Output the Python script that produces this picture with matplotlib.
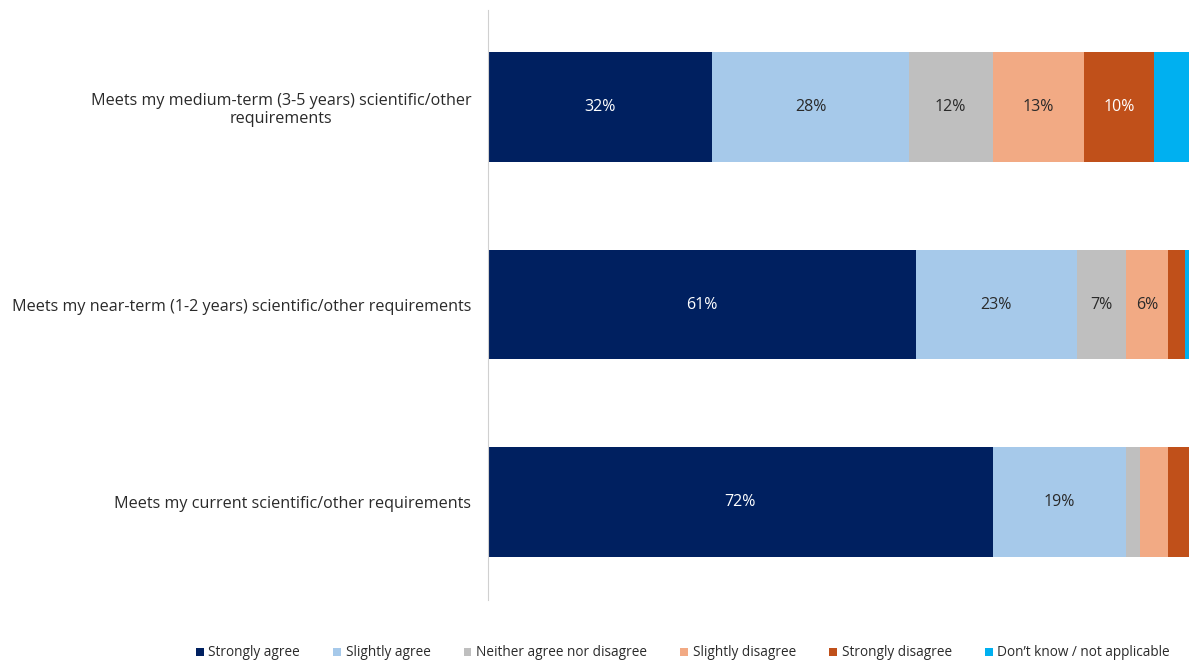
import matplotlib.pyplot as plt
import numpy as np
from matplotlib import font_manager

# survey responses, percent of respondents
questions = [
    "Meets my current scientific/other requirements",
    "Meets my near-term (1-2 years) scientific/other requirements",
    "Meets my medium-term (3-5 years) scientific/other\nrequirements",
]
responses = [
    "Strongly agree",
    "Slightly agree",
    "Neither agree nor disagree",
    "Slightly disagree",
    "Strongly disagree",
    "Don\u2019t know / not applicable",
]
strongly_agree = [72, 61, 32]
slightly_agree = [19, 23, 28]
neither = [2, 7, 12]
slightly_disagree = [4, 6, 13]
strongly_disagree = [3, 2.5, 10]
dont_know = [0, 0.5, 5]

colors = ["#002060", "#A6C9EA", "#BFBFBF", "#F2AA84", "#C0501A", "#00B0F0"]
text_colors = ["white", "#2a2a2a", "#2a2a2a", "#2a2a2a", "white", "#2a2a2a"]

names = {f.name for f in font_manager.fontManager.ttflist}
base_font = "Open Sans" if "Open Sans" in names else "DejaVu Sans"
plt.rcParams["font.family"] = [base_font, "DejaVu Sans"]

fig = plt.figure(figsize=(11.92, 6.62), dpi=100)
ax = fig.add_axes([488 / 1192, 1 - 600 / 662, 701 / 1192, 590 / 662])

series = [strongly_agree, slightly_agree, neither, slightly_disagree,
          strongly_disagree, dont_know]
y = np.arange(len(questions))
left = np.zeros(len(questions))
for name, vals, c, tc in zip(responses, series, colors, text_colors):
    vals = np.array(vals, dtype=float)
    ax.barh(y, vals, left=left, height=0.556, color=c, label=name)
    for yi, l, v in zip(y, left, vals):
        if v >= 6:
            ax.text(l + v / 2, yi, f"{v:.0f}%", ha="center", va="center",
                    color=tc, fontsize=11.5)
    left += vals

ax.set_xlim(0, 100)
ax.set_ylim(-0.495, 2.49)
ax.set_yticks(y)
ax.set_yticklabels(questions, fontsize=11.6, color="#2a2a2a", multialignment="center")
ax.tick_params(axis="y", length=0, pad=12)
ax.set_xticks([])
for side in ["top", "right", "bottom"]:
    ax.spines[side].set_visible(False)
ax.spines["left"].set_color("#D0D0D0")

leg = fig.legend(loc="center", bbox_to_anchor=(683 / 1192, 1 - 653 / 662), ncol=6,
                 frameon=False, handlelength=0.55, handleheight=0.55, handletextpad=0.35,
                 columnspacing=2.45, prop={"size": 9.8})
for t in leg.get_texts():
    t.set_color("#2a2a2a")

fig.savefig("out.png", dpi=100)
